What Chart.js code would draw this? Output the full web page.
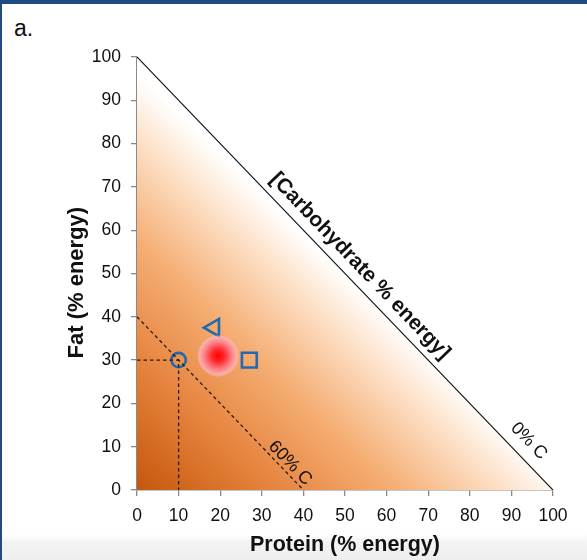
<!DOCTYPE html>
<html>
<head>
<meta charset="utf-8">
<script src="https://cdn.jsdelivr.net/npm/chart.js@4.4.1/dist/chart.umd.min.js"></script>
<style>
  html, body { margin: 0; padding: 0; }
  #wrap {
    position: relative;
    width: 587px;
    height: 560px;
    background: linear-gradient(to bottom, #ffffff 0, #ffffff 534px, #f3f3f3 542px, #eeeeee 560px);
    box-shadow: inset 2px 4px 0 #1f4b80;
    overflow: hidden;
  }
  #panel {
    position: absolute;
    left: 14px;
    top: 17px;
    font: 23px/23px 'Liberation Sans', Arial, sans-serif;
    color: #111;
  }
  #wrap canvas { position: absolute; left: 0; top: 0; }
</style>
</head>
<body>
<div id="wrap">
  <div id="panel">a.</div>
  <canvas id="triChart"></canvas>
</div>
<script>
// axis range (% energy)
const axisMin = 0;
const axisMax = 100;
const axisStep = 10;

// diets plotted on the protein / fat plane
const dietNames = ['Diet A', 'Diet B', 'Diet C', 'Optimum'];
const proteinPct = [10, 18.5, 27, 19.5];
const fatPct = [30, 37.5, 30, 31];

// 0% carbohydrate boundary
const zeroCarbProtein = [0, 100];
const zeroCarbFat = [100, 0];

// 60% carbohydrate line
const sixtyCarbProtein = [0, 40];
const sixtyCarbFat = [40, 0];

// guide lines to Diet A
const guideProtein = [0, 10, 10];
const guideFat = [30, 30, 0];

const toPoints = (xs, ys) => xs.map((x, i) => ({ x: x, y: ys[i] }));

Chart.defaults.font.family = "'Liberation Sans', Arial, sans-serif";
Chart.defaults.color = '#111';

// soft red blob for the optimum
const blob = document.createElement('canvas');
blob.width = 42;
blob.height = 42;
(function () {
  const b = blob.getContext('2d');
  const g = b.createRadialGradient(21, 21, 0, 21, 21, 21);
  g.addColorStop(0, 'rgba(255,0,0,1)');
  g.addColorStop(0.3, 'rgba(255,40,45,1)');
  g.addColorStop(0.65, 'rgba(252,125,135,0.95)');
  g.addColorStop(0.9, 'rgba(250,180,185,0.85)');
  g.addColorStop(1, 'rgba(250,200,200,0)');
  b.fillStyle = g;
  b.beginPath();
  b.arc(21, 21, 21, 0, Math.PI * 2);
  b.fill();
})();

// shaded triangle of possible diets
const triangleFill = {
  id: 'triangleFill',
  beforeDatasetsDraw(chart) {
    const { ctx, scales: { x, y } } = chart;
    const o = { x: x.getPixelForValue(0), y: y.getPixelForValue(0) };
    const top = { x: x.getPixelForValue(0), y: y.getPixelForValue(100) };
    const right = { x: x.getPixelForValue(100), y: y.getPixelForValue(0) };
    const mid = { x: x.getPixelForValue(50), y: y.getPixelForValue(50) };
    const g = ctx.createLinearGradient(o.x, o.y, mid.x, mid.y);
    g.addColorStop(0, '#c4570c');
    g.addColorStop(0.3, '#e5813b');
    g.addColorStop(0.6, '#f5ae74');
    g.addColorStop(0.85, '#fde1c8');
    g.addColorStop(1, '#ffffff');
    ctx.save();
    ctx.beginPath();
    ctx.moveTo(o.x, o.y);
    ctx.lineTo(top.x, top.y);
    ctx.lineTo(right.x, right.y);
    ctx.closePath();
    ctx.fillStyle = g;
    ctx.fill();
    ctx.restore();
  }
};

// rotated labels along the carbohydrate lines
const lineLabels = {
  id: 'lineLabels',
  afterDatasetsDraw(chart) {
    const { ctx, scales: { x, y } } = chart;
    const ang = Math.atan2(y.getPixelForValue(0) - y.getPixelForValue(100),
                           x.getPixelForValue(100) - x.getPixelForValue(0));
    const items = [
      { t: '[Carbohydrate % energy]', px: 53.6, py: 51.7, f: 'bold 21px' },
      { t: '0% C', px: 94.2, py: 11.3, f: '18px' },
      { t: '60% C', px: 36.8, py: 6.2, f: '18px' }
    ];
    ctx.save();
    ctx.fillStyle = '#111';
    ctx.textAlign = 'center';
    ctx.textBaseline = 'middle';
    items.forEach(it => {
      ctx.save();
      ctx.translate(x.getPixelForValue(it.px), y.getPixelForValue(it.py));
      ctx.rotate(ang);
      ctx.font = it.f + " 'Liberation Sans', Arial, sans-serif";
      ctx.fillText(it.t, 0, 0);
      ctx.restore();
    });
    ctx.restore();
  }
};

const blue = '#2369ad';

new Chart(document.getElementById('triChart'), {
  type: 'scatter',
  data: {
    datasets: [
      {
        label: '0% C',
        data: toPoints(zeroCarbProtein, zeroCarbFat),
        showLine: true,
        borderColor: '#111',
        borderWidth: 1.2,
        pointRadius: 0
      },
      {
        label: '60% C',
        data: toPoints(sixtyCarbProtein, sixtyCarbFat),
        showLine: true,
        borderColor: '#2a1a10',
        borderWidth: 1.3,
        borderDash: [3.5, 3],
        pointRadius: 0
      },
      {
        label: 'guide',
        data: toPoints(guideProtein, guideFat),
        showLine: true,
        borderColor: '#2a1a10',
        borderWidth: 1.3,
        borderDash: [3.5, 3],
        pointRadius: 0
      },
      {
        label: dietNames[3],
        data: [{ x: proteinPct[3], y: fatPct[3] }],
        pointStyle: blob,
        pointRadius: 21
      },
      {
        label: dietNames[0],
        data: [{ x: proteinPct[0], y: fatPct[0] }],
        pointStyle: 'circle',
        pointRadius: 7.2,
        borderColor: blue,
        borderWidth: 2.6,
        backgroundColor: 'rgba(0,0,0,0)'
      },
      {
        label: dietNames[1],
        data: [{ x: proteinPct[1], y: fatPct[1] }],
        pointStyle: 'triangle',
        rotation: -90,
        pointRadius: 10,
        borderColor: blue,
        borderWidth: 2.6,
        backgroundColor: 'rgba(0,0,0,0)'
      },
      {
        label: dietNames[2],
        data: [{ x: proteinPct[2], y: fatPct[2] }],
        pointStyle: 'rect',
        pointRadius: 10.5,
        borderColor: blue,
        borderWidth: 2.6,
        backgroundColor: 'rgba(0,0,0,0)'
      }
    ]
  },
  options: {
    responsive: true,
    maintainAspectRatio: false,
    animation: false,
    events: [],
    layout: { padding: { left: 60, right: 34, top: 57, bottom: 0 } },
    plugins: {
      legend: { display: false },
      tooltip: { enabled: false }
    },
    scales: {
      x: {
        min: axisMin,
        max: axisMax,
        afterFit(scale) { scale.height = 70; },
        ticks: { stepSize: axisStep, padding: 10, font: { size: 17.5 }, color: '#111' },
        grid: { drawOnChartArea: false, drawTicks: true, tickLength: 6, color: '#8a8a8a', lineWidth: 1.3 },
        border: { color: '#8a8a8a', width: 1.5 },
        title: { display: true, text: 'Protein (% energy)', font: { size: 21.5, weight: 'bold' }, color: '#111', padding: { top: 0, bottom: 2 } }
      },
      y: {
        min: axisMin,
        max: axisMax,
        afterFit(scale) { scale.width = 77; },
        ticks: { stepSize: axisStep, padding: 10, font: { size: 17.5 }, color: '#111' },
        grid: { drawOnChartArea: false, drawTicks: true, tickLength: 6, color: '#8a8a8a', lineWidth: 1.3 },
        border: { color: '#8a8a8a', width: 1.5 },
        title: { display: true, text: 'Fat (% energy)\u00a0\u00a0\u00a0', font: { size: 22, weight: 'bold' }, color: '#111', padding: { top: 4, bottom: 0 } }
      }
    }
  },
  plugins: [triangleFill, lineLabels]
});
</script>
</body>
</html>
